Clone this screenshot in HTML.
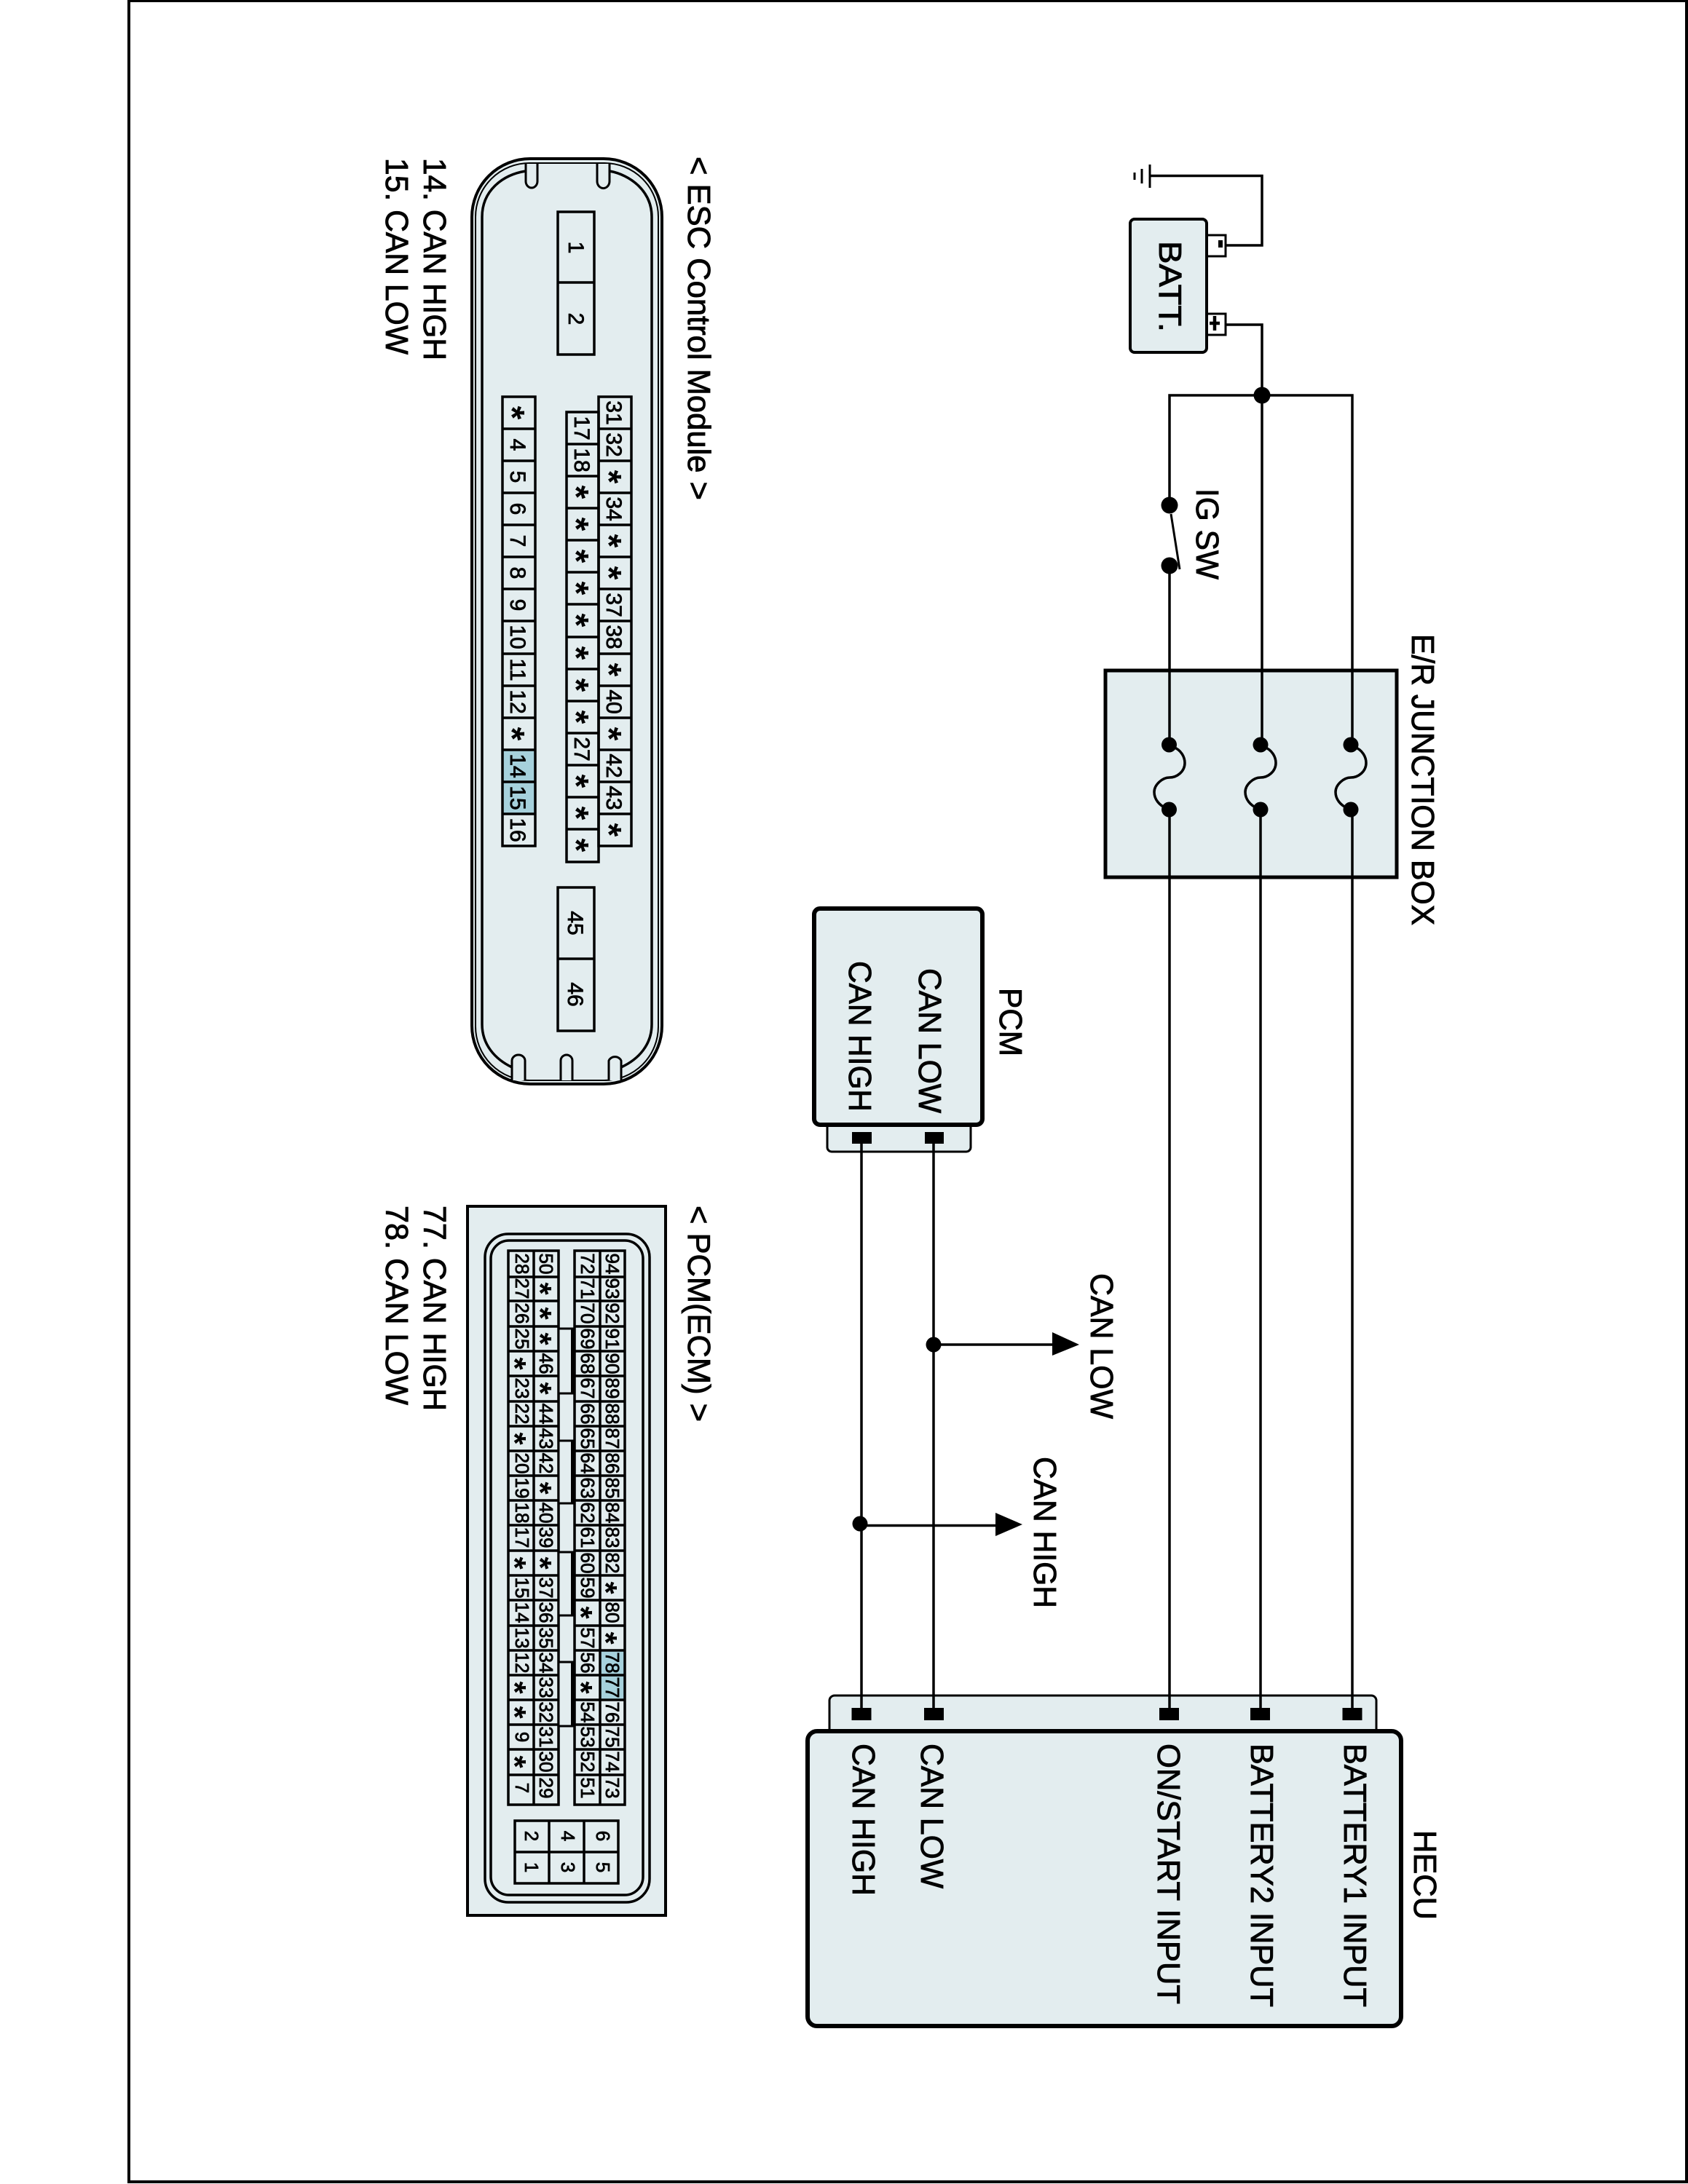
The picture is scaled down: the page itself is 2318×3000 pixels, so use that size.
<!DOCTYPE html>
<html>
<head>
<meta charset="utf-8">
<title>HECU Circuit Diagram</title>
<style>
html,body{margin:0;padding:0;background:#fff}
svg{display:block}
text{font-family:"Liberation Sans",Arial,sans-serif;fill:#000}
.l{font-size:44px;stroke:#000;stroke-width:.9px}
.e{font-size:30px;stroke:#000;stroke-width:.8px;text-anchor:middle}
.p{font-size:26px;stroke:#000;stroke-width:.8px;text-anchor:middle}
.s{font-size:48px;font-weight:bold;text-anchor:middle}
.t{font-size:44px;font-weight:bold;text-anchor:middle}
</style>
</head>
<body>
<svg xmlns="http://www.w3.org/2000/svg" width="2318" height="3000" viewBox="0 0 2318 3000">
<rect width="2318" height="3000" fill="#fff"/>
<!-- frame -->
<rect x="177" y="1" width="2139" height="2996" fill="none" stroke="#000" stroke-width="4"/>

<!-- ESC connector -->
<g fill="#e3edef" stroke="#000">
<rect x="648" y="218" width="261" height="1271" rx="80" ry="80" stroke-width="4"/>
<rect x="653" y="224" width="251" height="1260" rx="74" ry="74" stroke-width="2"/>
</g>
<g fill="none" stroke="#000" stroke-width="3.5">
<path d="M722 235C690 240 662 262 662 298V1407C662 1435 680 1455 703 1466"/>
<path d="M837 235C865 240 895 262 895 298V1407C895 1435 877 1455 853 1466"/>
</g>
<g fill="#e3edef" stroke="#000" stroke-width="3">
<path d="M722 225V249a8 9 0 0 0 16 0V225"/>
<path d="M820 225V249a8 9 0 0 0 17 0V225"/>
<path d="M703 1484V1457a9 8 0 0 1 18 0V1484"/>
<path d="M770 1484V1457a8 8 0 0 1 16 0V1484"/>
<path d="M836 1484V1457a9 8 0 0 1 17 0V1484"/>
</g>
<g fill="none" stroke="#000" stroke-width="3.5">
<rect x="766" y="291" width="50" height="196"/>
<path d="M766 388H816"/>
<rect x="766" y="1219" width="50" height="197"/>
<path d="M766 1317H816"/>
</g>
<rect x="690" y="1030" width="45" height="88" fill="#a6d1dc"/>
<g fill="none" stroke="#000" stroke-width="3.5">
<rect x="690" y="545" width="45" height="617"/>
<path d="M690 589H735M690 633H735M690 677H735M690 721H735M690 765H735M690 809H735M690 853H735M690 898H735M690 942H735M690 986H735M690 1030H735M690 1074H735M690 1118H735"/>
<rect x="822" y="545" width="45" height="617"/>
<path d="M822 589H867M822 633H867M822 677H867M822 721H867M822 765H867M822 809H867M822 853H867M822 898H867M822 942H867M822 986H867M822 1030H867M822 1074H867M822 1118H867"/>
<rect x="778" y="566" width="44" height="618"/>
<path d="M778 610H822M778 654H822M778 698H822M778 742H822M778 786H822M778 830H822M778 875H822M778 919H822M778 963H822M778 1007H822M778 1051H822M778 1095H822M778 1139H822"/>
</g>

<!-- PCM(ECM) connector -->
<rect x="642" y="1657" width="272" height="974" fill="#e3edef" stroke="#000" stroke-width="4"/>
<rect x="666" y="1695" width="226" height="918" rx="32" ry="32" fill="none" stroke="#000" stroke-width="3.5"/>
<rect x="674" y="1704" width="209" height="899" rx="25" ry="25" fill="none" stroke="#000" stroke-width="3.5"/>
<rect x="824" y="2267" width="34" height="68" fill="#a6d1dc"/>
<g fill="none" stroke="#000" stroke-width="3.5">
<rect x="698" y="1718" width="69" height="761"/>
<path d="M733 1718V2479"/>
<rect x="789" y="1718" width="69" height="761"/>
<path d="M824 1718V2479"/>
<path d="M698 1754H767M698 1787H767M698 1822H767M698 1856H767M698 1890H767M698 1925H767M698 1959H767M698 1993H767M698 2027H767M698 2061H767M698 2095H767M698 2130H767M698 2164H767M698 2198H767M698 2233H767M698 2267H767M698 2301H767M698 2335H767M698 2369H767M698 2403H767M698 2438H767"/>
<path d="M789 1754H858M789 1787H858M789 1822H858M789 1856H858M789 1890H858M789 1925H858M789 1959H858M789 1993H858M789 2027H858M789 2061H858M789 2095H858M789 2130H858M789 2164H858M789 2198H858M789 2233H858M789 2267H858M789 2301H858M789 2335H858M789 2369H858M789 2403H858M789 2438H858"/>
</g>
<g fill="#e3edef" stroke="#000" stroke-width="3">
<rect x="767" y="1825" width="20" height="89"/>
<rect x="767" y="1979" width="20" height="86"/>
<rect x="767" y="2132" width="20" height="87"/>
<rect x="767" y="2283" width="20" height="88"/>
</g>
<g fill="none" stroke="#000" stroke-width="6">
<path d="M787 1825V1914M787 1979V2065M787 2132V2219M787 2283V2371"/>
</g>
<g fill="none" stroke="#000" stroke-width="3.5">
<rect x="707" y="2501" width="142" height="86"/>
<path d="M754 2501V2587M802 2501V2587M707 2544H849"/>
</g>

<!-- Battery -->
<rect x="1657" y="323" width="26" height="29" fill="#fff" stroke="#000" stroke-width="3"/>
<rect x="1657" y="431" width="26" height="29" fill="#fff" stroke="#000" stroke-width="3"/>
<rect x="1552" y="301" width="105" height="183" rx="6" ry="6" fill="#e3edef" stroke="#000" stroke-width="4"/>
<path d="M1673 335H1679" stroke="#000" stroke-width="10" fill="none"/>
<path d="M1661 444H1675M1668 434V454" stroke="#000" stroke-width="4.5" fill="none"/>
<!-- ground -->
<g fill="none" stroke="#000">
<path d="M1579 241.500H1733V337H1683" stroke-width="3.500"/>
<path d="M1579 226V258" stroke-width="3"/>
<path d="M1568 232V252" stroke-width="3"/>
<path d="M1558 237V247" stroke-width="3"/>
</g>

<!-- Junction box -->
<rect x="1518" y="921" width="400" height="284" fill="#e3edef" stroke="#000" stroke-width="5"/>

<!-- PCM module -->
<rect x="1136" y="1530" width="197" height="52" rx="6" ry="6" fill="#e3edef" stroke="#000" stroke-width="3"/>
<rect x="1118" y="1248" width="231" height="297" rx="8" ry="8" fill="#e3edef" stroke="#000" stroke-width="6"/>
<rect x="1170" y="1555" width="27" height="16" fill="#000"/>
<rect x="1270" y="1555" width="26" height="16" fill="#000"/>

<!-- HECU module -->
<rect x="1139" y="2329" width="751" height="70" rx="7" ry="7" fill="#e3edef" stroke="#000" stroke-width="3"/>
<rect x="1109" y="2378" width="815" height="405" rx="13" ry="13" fill="#e3edef" stroke="#000" stroke-width="6"/>
<g fill="#000">
<rect x="1169.500" y="2346" width="27" height="17"/>
<rect x="1269" y="2346" width="27" height="17"/>
<rect x="1592" y="2346" width="27" height="17"/>
<rect x="1717" y="2346" width="27" height="17"/>
<rect x="1843.500" y="2346" width="27" height="17"/>
</g>

<!-- Wires -->
<g fill="none" stroke="#000" stroke-width="3.500">
<path d="M1683 446H1733V1023"/>
<path d="M1606 694V543H1857V1023" />
<path d="M1606 777V1023"/>
<path d="M1606 1112V2346"/>
<path d="M1731 1112V2346"/>
<path d="M1857 1112V2346"/>
<path d="M1608 706L1620 782" stroke-width="3"/>
<path d="M1183 1571V2346"/>
<path d="M1282 1571V2346"/>
<path d="M1282 1847H1450"/>
<path d="M1183 2095.500H1372"/>
</g>
<g fill="none" stroke="#000" stroke-width="3.500">
<path d="M1611 1026C1622 1030 1627 1040 1627 1048C1627 1060 1616 1068 1606 1068C1596 1068 1585 1078 1585 1088C1585 1098 1592 1106 1601 1110"/>
<path d="M1736 1026C1747 1030 1752 1040 1752 1048C1752 1060 1741 1068 1731 1068C1721 1068 1710 1078 1710 1088C1710 1098 1717 1106 1726 1110"/>
<path d="M1860 1026C1871 1030 1876 1040 1876 1048C1876 1060 1865 1068 1855 1068C1845 1068 1834 1078 1834 1088C1834 1098 1841 1106 1850 1110"/>
</g>
<g fill="#000">
<circle cx="1733" cy="543" r="11.500"/>
<circle cx="1606" cy="694" r="11.500"/>
<circle cx="1606" cy="777" r="11.500"/>
<circle cx="1605.500" cy="1023" r="10.500"/>
<circle cx="1605.500" cy="1112" r="10.500"/>
<circle cx="1731" cy="1023" r="10.500"/>
<circle cx="1731" cy="1112" r="10.500"/>
<circle cx="1855" cy="1023" r="10.500"/>
<circle cx="1855" cy="1112" r="10.500"/>
<circle cx="1282" cy="1847" r="10.500"/>
<circle cx="1181" cy="2093" r="10.500"/>
<path d="M1445 1830L1482 1847L1445 1862Z"/>
<path d="M1367 2078L1404 2094L1367 2110Z"/>
</g>

<!-- All text, rotated 90deg clockwise: x = page Y, y = -(page X) -->
<g transform="rotate(90)">
<text class="l" x="215" y="-945" textLength="472" lengthAdjust="spacingAndGlyphs">&lt; ESC Control Module &gt;</text>
<text class="l" x="1656" y="-945" textLength="297" lengthAdjust="spacingAndGlyphs">&lt; PCM(ECM) &gt;</text>
<text class="l" x="217" y="-582" textLength="278" lengthAdjust="spacingAndGlyphs">14. CAN HIGH</text>
<text class="l" x="217" y="-530" textLength="270" lengthAdjust="spacingAndGlyphs">15. CAN LOW</text>
<text class="l" x="1656" y="-582" textLength="282" lengthAdjust="spacingAndGlyphs">77. CAN HIGH</text>
<text class="l" x="1656" y="-530" textLength="274" lengthAdjust="spacingAndGlyphs">78. CAN LOW</text>
<text class="l" x="331" y="-1592" textLength="125" lengthAdjust="spacingAndGlyphs">BATT.</text>
<text class="l" x="671" y="-1643" textLength="125" lengthAdjust="spacingAndGlyphs">IG SW</text>
<text class="l" x="871" y="-1939" textLength="400" lengthAdjust="spacingAndGlyphs">E/R JUNCTION BOX</text>
<text class="l" x="1357" y="-1373" textLength="94" lengthAdjust="spacingAndGlyphs">PCM</text>
<text class="l" x="1320" y="-1166" textLength="207" lengthAdjust="spacingAndGlyphs">CAN HIGH</text>
<text class="l" x="1330" y="-1262" textLength="199" lengthAdjust="spacingAndGlyphs">CAN LOW</text>
<text class="l" x="1749" y="-1498" textLength="200" lengthAdjust="spacingAndGlyphs">CAN LOW</text>
<text class="l" x="2001" y="-1420" textLength="208" lengthAdjust="spacingAndGlyphs">CAN HIGH</text>
<text class="l" x="2514" y="-1942" textLength="123" lengthAdjust="spacingAndGlyphs">HECU</text>
<text class="l" x="2395" y="-1171" textLength="209" lengthAdjust="spacingAndGlyphs">CAN HIGH</text>
<text class="l" x="2395" y="-1265" textLength="199" lengthAdjust="spacingAndGlyphs">CAN LOW</text>
<text class="l" x="2395" y="-1590" textLength="358" lengthAdjust="spacingAndGlyphs">ON/START INPUT</text>
<text class="l" x="2395" y="-1718" textLength="362" lengthAdjust="spacingAndGlyphs">BATTERY2 INPUT</text>
<text class="l" x="2395" y="-1846" textLength="362" lengthAdjust="spacingAndGlyphs">BATTERY1 INPUT</text>

<!-- ESC blocks -->
<text class="e" x="340" y="-781">1</text>
<text class="e" x="438" y="-781">2</text>
<text class="e" x="1268" y="-780">45</text>
<text class="e" x="1366" y="-780">46</text>
<!-- ESC left column -->
<text class="s" x="567" y="-687">*</text>
<text class="e" x="611" y="-701">4</text>
<text class="e" x="655" y="-701">5</text>
<text class="e" x="699" y="-701">6</text>
<text class="e" x="743" y="-701">7</text>
<text class="e" x="787" y="-701">8</text>
<text class="e" x="831" y="-701">9</text>
<text class="e" x="875" y="-701">10</text>
<text class="e" x="920" y="-701">11</text>
<text class="e" x="964" y="-701">12</text>
<text class="s" x="1008" y="-687">*</text>
<text class="e" x="1052" y="-701">14</text>
<text class="e" x="1096" y="-701">15</text>
<text class="e" x="1140" y="-701">16</text>
<!-- ESC outer column -->
<text class="e" x="567" y="-833">31</text>
<text class="e" x="611" y="-833">32</text>
<text class="s" x="655" y="-820">*</text>
<text class="e" x="699" y="-833">34</text>
<text class="s" x="743" y="-820">*</text>
<text class="s" x="787" y="-820">*</text>
<text class="e" x="831" y="-833">37</text>
<text class="e" x="875" y="-833">38</text>
<text class="s" x="920" y="-820">*</text>
<text class="e" x="964" y="-833">40</text>
<text class="s" x="1008" y="-820">*</text>
<text class="e" x="1052" y="-833">42</text>
<text class="e" x="1096" y="-833">43</text>
<text class="s" x="1140" y="-820">*</text>
<!-- ESC middle column -->
<text class="e" x="588" y="-789">17</text>
<text class="e" x="632" y="-789">18</text>
<text class="s" x="676" y="-775">*</text>
<text class="s" x="720" y="-775">*</text>
<text class="s" x="764" y="-775">*</text>
<text class="s" x="808" y="-775">*</text>
<text class="s" x="852" y="-775">*</text>
<text class="s" x="897" y="-775">*</text>
<text class="s" x="941" y="-775">*</text>
<text class="s" x="985" y="-775">*</text>
<text class="e" x="1029" y="-789">27</text>
<text class="s" x="1073" y="-775">*</text>
<text class="s" x="1117" y="-775">*</text>
<text class="s" x="1161" y="-775">*</text>

<!-- PCM col E -->
<text class="p" x="1736" y="-832">94</text>
<text class="p" x="1770" y="-832">93</text>
<text class="p" x="1804" y="-832">92</text>
<text class="p" x="1839" y="-832">91</text>
<text class="p" x="1873" y="-832">90</text>
<text class="p" x="1907" y="-832">89</text>
<text class="p" x="1942" y="-832">88</text>
<text class="p" x="1976" y="-832">87</text>
<text class="p" x="2010" y="-832">86</text>
<text class="p" x="2044" y="-832">85</text>
<text class="p" x="2078" y="-832">84</text>
<text class="p" x="2112" y="-832">83</text>
<text class="p" x="2147" y="-832">82</text>
<text class="t" x="2181" y="-817">*</text>
<text class="p" x="2215" y="-832">80</text>
<text class="t" x="2250" y="-817">*</text>
<text class="p" x="2284" y="-832">78</text>
<text class="p" x="2318" y="-832">77</text>
<text class="p" x="2352" y="-832">76</text>
<text class="p" x="2386" y="-832">75</text>
<text class="p" x="2420" y="-832">74</text>
<text class="p" x="2456" y="-832">73</text>
<!-- PCM col D -->
<text class="p" x="1736" y="-798">72</text>
<text class="p" x="1770" y="-798">71</text>
<text class="p" x="1804" y="-798">70</text>
<text class="p" x="1839" y="-798">69</text>
<text class="p" x="1873" y="-798">68</text>
<text class="p" x="1907" y="-798">67</text>
<text class="p" x="1942" y="-798">66</text>
<text class="p" x="1976" y="-798">65</text>
<text class="p" x="2010" y="-798">64</text>
<text class="p" x="2044" y="-798">63</text>
<text class="p" x="2078" y="-798">62</text>
<text class="p" x="2112" y="-798">61</text>
<text class="p" x="2147" y="-798">60</text>
<text class="p" x="2181" y="-798">59</text>
<text class="t" x="2215" y="-783">*</text>
<text class="p" x="2250" y="-798">57</text>
<text class="p" x="2284" y="-798">56</text>
<text class="t" x="2318" y="-783">*</text>
<text class="p" x="2352" y="-798">54</text>
<text class="p" x="2386" y="-798">53</text>
<text class="p" x="2420" y="-798">52</text>
<text class="p" x="2456" y="-798">51</text>
<!-- PCM col B -->
<text class="p" x="1736" y="-741">50</text>
<text class="t" x="1770" y="-727">*</text>
<text class="t" x="1804" y="-727">*</text>
<text class="t" x="1839" y="-727">*</text>
<text class="p" x="1873" y="-741">46</text>
<text class="t" x="1907" y="-727">*</text>
<text class="p" x="1942" y="-741">44</text>
<text class="p" x="1976" y="-741">43</text>
<text class="p" x="2010" y="-741">42</text>
<text class="t" x="2044" y="-727">*</text>
<text class="p" x="2078" y="-741">40</text>
<text class="p" x="2112" y="-741">39</text>
<text class="t" x="2147" y="-727">*</text>
<text class="p" x="2181" y="-741">37</text>
<text class="p" x="2215" y="-741">36</text>
<text class="p" x="2250" y="-741">35</text>
<text class="p" x="2284" y="-741">34</text>
<text class="p" x="2318" y="-741">33</text>
<text class="p" x="2352" y="-741">32</text>
<text class="p" x="2386" y="-741">31</text>
<text class="p" x="2420" y="-741">30</text>
<text class="p" x="2456" y="-741">29</text>
<!-- PCM col A -->
<text class="p" x="1736" y="-708">28</text>
<text class="p" x="1770" y="-708">27</text>
<text class="p" x="1804" y="-708">26</text>
<text class="p" x="1839" y="-708">25</text>
<text class="t" x="1873" y="-692">*</text>
<text class="p" x="1907" y="-708">23</text>
<text class="p" x="1942" y="-708">22</text>
<text class="t" x="1976" y="-692">*</text>
<text class="p" x="2010" y="-708">20</text>
<text class="p" x="2044" y="-708">19</text>
<text class="p" x="2078" y="-708">18</text>
<text class="p" x="2112" y="-708">17</text>
<text class="t" x="2147" y="-692">*</text>
<text class="p" x="2181" y="-708">15</text>
<text class="p" x="2215" y="-708">14</text>
<text class="p" x="2250" y="-708">13</text>
<text class="p" x="2284" y="-708">12</text>
<text class="t" x="2318" y="-692">*</text>
<text class="t" x="2352" y="-692">*</text>
<text class="p" x="2386" y="-708">9</text>
<text class="t" x="2420" y="-692">*</text>
<text class="p" x="2456" y="-708">7</text>
<!-- PCM lower block -->
<text class="p" x="2522" y="-721">2</text>
<text class="p" x="2565" y="-721">1</text>
<text class="p" x="2522" y="-771">4</text>
<text class="p" x="2565" y="-771">3</text>
<text class="p" x="2522" y="-819">6</text>
<text class="p" x="2565" y="-819">5</text>
</g>
</svg>
</body>
</html>
